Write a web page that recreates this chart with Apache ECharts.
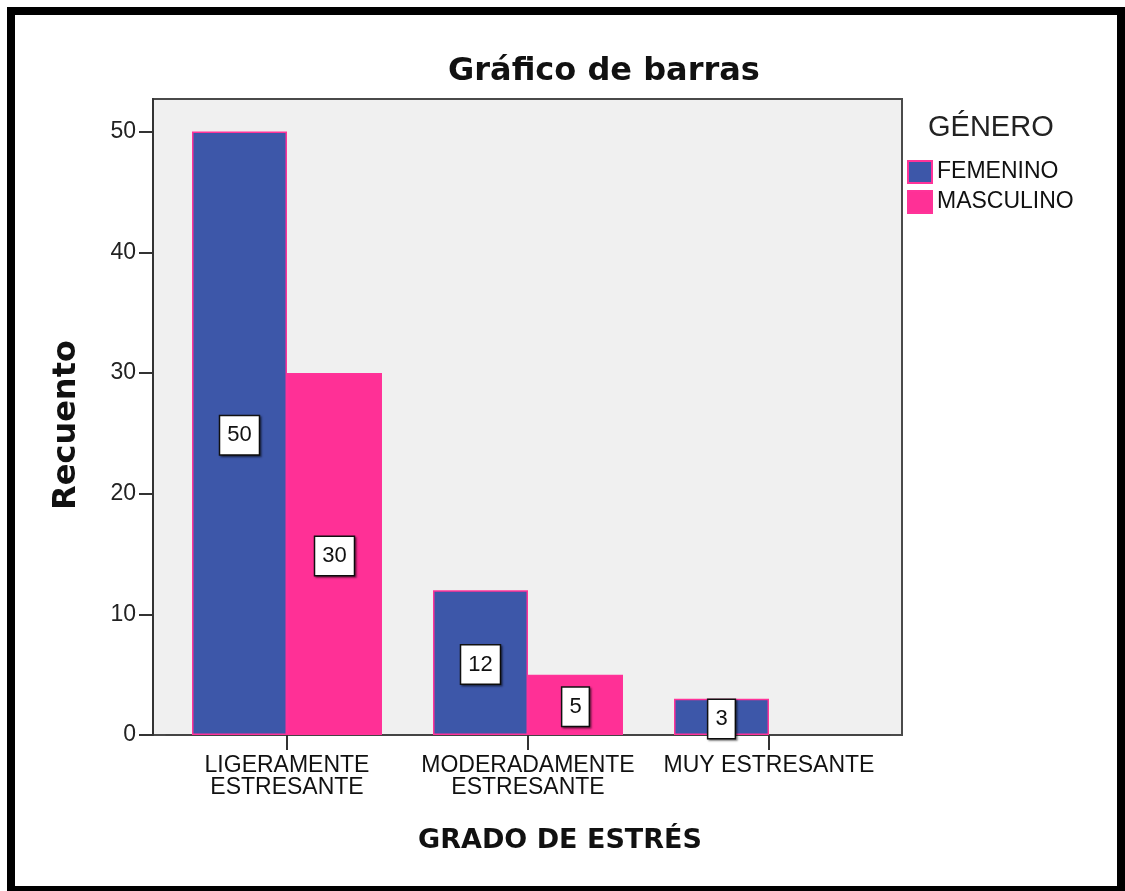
<!DOCTYPE html>
<html>
<head>
<meta charset="utf-8">
<script src="https://cdn.jsdelivr.net/npm/echarts@6/dist/echarts.min.js"></script>
<style>html,body{margin:0;padding:0;background:#fff;}#c{width:1125px;height:891px;}</style>
</head>
<body>
<div id="c"></div>
<script>
const categories = ['LIGERAMENTE\nESTRESANTE', 'MODERADAMENTE\nESTRESANTE', 'MUY ESTRESANTE'];
const seriesNames = ['FEMENINO', 'MASCULINO'];
const femenino = [50, 12, 3];
const masculino = [30, 5, 0];
const yTicks = [0, 10, 20, 30, 40, 50];
const yMax = 52.7;

const REG = 'Liberation Sans, Arial, sans-serif';
const BOLD = 'DejaVu Sans, sans-serif';

const labelStyle = {
  show: true, position: 'inside', offset: [0, 2],
  color: '#111', fontSize: 22, fontFamily: REG, lineHeight: 22,
  backgroundColor: '#fff', borderColor: '#111', borderWidth: 1.5,
  padding: [8, 7, 8, 7],
  shadowColor: 'rgba(0,0,0,0.45)', shadowBlur: 2, shadowOffsetX: 1.5, shadowOffsetY: 1.5
};
const toData = vals => vals.map(v => v === 0
  ? { value: v, label: { show: false }, itemStyle: { borderWidth: 0 } }
  : v);

const chart = echarts.init(document.getElementById('c'));
chart.setOption({
  backgroundColor: '#fff',
  animation: false,
  title: [
    { text: 'Gráfico de barras', left: 448, top: 56, padding: 0,
      textStyle: { fontFamily: BOLD, fontWeight: 'bold', fontSize: 32, color: '#111' } },
    { text: 'GÉNERO', left: 928, top: 113, padding: 0,
      textStyle: { fontFamily: REG, fontWeight: 'normal', fontSize: 29, color: '#222' } }
  ],
  legend: {
    orient: 'vertical', left: 907, top: 160, padding: 0,
    itemWidth: 24, itemHeight: 22, itemGap: 6, icon: 'rect',
    data: seriesNames,
    textStyle: { fontFamily: REG, fontSize: 23, color: '#111' }
  },
  grid: [
    { left: 153, top: 99, width: 749, height: 636, show: true,
      backgroundColor: '#f0f0f0', borderColor: '#4a4a4a', borderWidth: 2 },
    { left: 166.5, top: 99, width: 723, height: 636 }
  ],
  xAxis: [
    { gridIndex: 0, type: 'value', show: false, min: 0, max: 1 },
    { gridIndex: 1, type: 'category', data: categories,
      axisLine: { show: true, lineStyle: { color: '#444', width: 2 } },
      axisTick: { show: true, alignWithLabel: true, length: 15, lineStyle: { color: '#333', width: 2 } },
      axisLabel: { interval: 0, margin: 20, fontFamily: REG, fontSize: 23, lineHeight: 22, color: '#111' },
      name: 'GRADO DE ESTRÉS', nameLocation: 'middle', nameGap: 92,
      nameTextStyle: { fontFamily: BOLD, fontWeight: 'bold', fontSize: 27, color: '#111', padding: [0, 0, 0, 64] }
    }
  ],
  yAxis: [
    { gridIndex: 0, type: 'value', show: false, min: 0, max: 1 },
    { gridIndex: 1, type: 'value', min: 0, max: yMax, interval: 10, offset: 13.5,
      axisLine: { show: true, lineStyle: { color: '#333', width: 2 } },
      axisTick: { show: true, length: 14, customValues: yTicks, lineStyle: { color: '#333', width: 2 } },
      axisLabel: { customValues: yTicks, margin: 17, fontFamily: REG, fontSize: 23, color: '#222' },
      splitLine: { show: false },
      name: 'Recuento', nameLocation: 'middle', nameGap: 70,
      nameTextStyle: { fontFamily: BOLD, fontWeight: 'bold', fontSize: 32, color: '#111', padding: [0, 16, 0, 0] }
    }
  ],
  series: [
    { type: 'bar', name: seriesNames[0], xAxisIndex: 1, yAxisIndex: 1, data: toData(femenino),
      barWidth: 95, barGap: '0%',
      itemStyle: { color: '#3d57a9', borderColor: '#ff3399', borderWidth: 1.5 },
      label: labelStyle },
    { type: 'bar', name: seriesNames[1], xAxisIndex: 1, yAxisIndex: 1, data: toData(masculino),
      barWidth: 95, barGap: '0%',
      itemStyle: { color: '#ff3096', borderColor: '#ff3399', borderWidth: 1.5 },
      label: labelStyle }
  ],
  graphic: [
    { type: 'rect', z: 100, silent: true,
      shape: { x: 11, y: 11, width: 1110, height: 879 },
      style: { fill: 'none', stroke: '#000', lineWidth: 8 } }
  ]
});
</script>
</body>
</html>
